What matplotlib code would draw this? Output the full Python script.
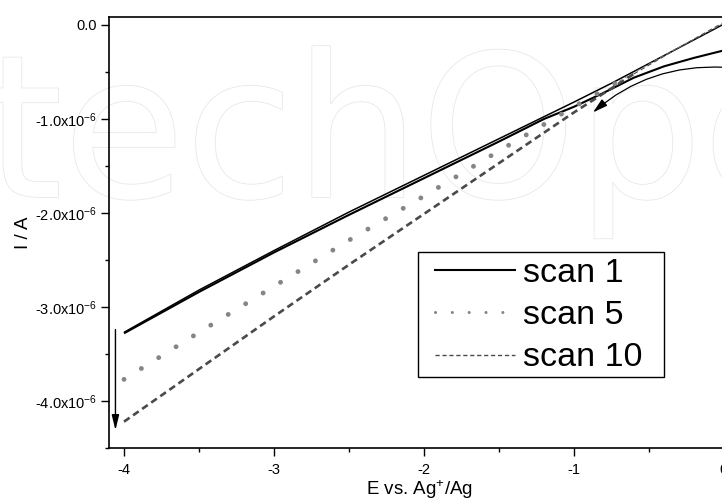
import matplotlib
matplotlib.use("Agg")
import matplotlib.pyplot as plt
from matplotlib.lines import Line2D
from matplotlib.patches import Rectangle
from matplotlib.ticker import FuncFormatter, MultipleLocator
import matplotlib.patheffects as pe

plt.rcParams['font.family'] = ['Liberation Sans', 'DejaVu Sans']
plt.rcParams['mathtext.default'] = 'regular'

# ---- data (E in V vs Ag+/Ag, I in A) ----
scan1_fwd_x = [0.0, -0.25, -0.5, -0.75, -1.0, -1.5, -2.0, -2.5, -3.0, -3.5, -4.0]
scan1_fwd_y = [0.01e-6, -0.20e-6, -0.41e-6, -0.62e-6, -0.82e-6, -1.21e-6, -1.60e-6,
               -1.99e-6, -2.40e-6, -2.82e-6, -3.27e-6]
scan1_rev_x = [-4.0, -3.5, -3.0, -2.5, -2.0, -1.5, -1.2, -1.0, -0.8, -0.6, -0.4, -0.2, 0.0]
scan1_rev_y = [-3.28e-6, -2.84e-6, -2.42e-6, -2.02e-6, -1.63e-6, -1.24e-6, -1.00e-6,
               -0.87e-6, -0.72e-6, -0.56e-6, -0.44e-6, -0.35e-6, -0.27e-6]

scan5_x = [-4.0, -3.5, -3.0, -2.5, -2.0, -1.5, -1.0, -0.7]
scan5_y = [-3.77e-6, -3.27e-6, -2.78e-6, -2.29e-6, -1.82e-6, -1.34e-6, -0.87e-6, -0.60e-6]
scan5_tail_x = [-0.7, -0.35, 0.0]
scan5_tail_y = [-0.60e-6, -0.28e-6, 0.02e-6]

scan10_x = [-4.0, -3.5, -3.0, -2.5, -2.0, -1.5, -1.0, -0.6]
scan10_y = [-4.22e-6, -3.66e-6, -3.10e-6, -2.55e-6, -2.01e-6, -1.47e-6, -0.93e-6, -0.52e-6]
scan10_tail_x = [-0.6, -0.3, 0.0]
scan10_tail_y = [-0.52e-6, -0.24e-6, 0.03e-6]

legend_labels = ["scan 1", "scan 5", "scan 10"]
x_ticks = [-4, -3, -2, -1, 0]
y_ticks = [0.0, -1.0e-6, -2.0e-6, -3.0e-6, -4.0e-6]
watermark = "techOpen"

W, H = 722, 500
fig = plt.figure(figsize=(W / 100, H / 100), dpi=100)

# faint outlined watermark behind the chart
fig.text(-15 / W, 1 - 197 / H, watermark, fontsize=143, family='DejaVu Sans',
         color='white', zorder=-5,
         path_effects=[pe.withStroke(linewidth=1.2, foreground='#e8e8e8')])

ax = fig.add_axes([109 / W, 52 / H, (731 - 109) / W, (448 - 17) / H])
ax.set_zorder(1)
ax.patch.set_alpha(0)

c5 = '#858585'
c10 = '#4a4a4a'

ax.plot(scan1_fwd_x, scan1_fwd_y, color='black', lw=1.1, solid_capstyle='butt')
ax.plot(scan1_rev_x, scan1_rev_y, color='black', lw=1.5, solid_capstyle='butt')

ax.plot(scan5_x, scan5_y, color=c5, lw=3.5, linestyle=(0, (0.01, 4.2)),
        dash_capstyle='round')
ax.plot(scan5_tail_x, scan5_tail_y, color=c5, lw=0.7, linestyle=(0, (4, 3)))

ax.plot(scan10_x, scan10_y, color=c10, lw=1.9, linestyle=(0, (2.6, 1.6)))
ax.plot(scan10_tail_x, scan10_tail_y, color=c10, lw=0.8, linestyle=(0, (4, 3)))

# arrows
ax.annotate('', xy=(-0.873, -0.93e-6), xytext=(0.0, -0.45e-6),
            arrowprops=dict(arrowstyle='-|>,head_length=0.9,head_width=0.25',
                            color='black', lw=0.9,
                            connectionstyle='arc3,rad=0.2',
                            shrinkA=0, shrinkB=0))
ax.annotate('', xy=(-4.057, -4.31e-6), xytext=(-4.057, -3.24e-6),
            arrowprops=dict(arrowstyle='-|>,head_length=0.9,head_width=0.22',
                            color='black', lw=1.0, shrinkA=0, shrinkB=0))

ax.set_xticks(x_ticks)
ax.xaxis.set_minor_locator(MultipleLocator(0.5))
ax.set_yticks(y_ticks)
ax.yaxis.set_minor_locator(MultipleLocator(0.5e-6))


def yfmt(v, pos):
    if abs(v) < 1e-12:
        return '0.0'
    return '%.1fx10$^{-6}$' % (v / 1e-6)


ax.yaxis.set_major_formatter(FuncFormatter(yfmt))
ax.xaxis.set_major_formatter(FuncFormatter(lambda v, p: '%d' % v))

ax.tick_params(which='major', direction='out', length=5.5, width=1.0,
               labelsize=10.5, pad=3)
ax.tick_params(axis='x', which='major', pad=5)
ax.tick_params(which='minor', direction='out', length=3.2, width=1.0)
for s in ax.spines.values():
    s.set_linewidth(1.2)

ax.set_xlabel('E vs. Ag$^{+}$/Ag', fontsize=13.5, labelpad=1)
ax.set_ylabel('I / A', fontsize=13.5, labelpad=2)

# legend frame (drawn inside the axes, below the legend)
frame = Rectangle((418 / W, 1 - 377 / H), (664 - 418) / W, (377 - 252) / H,
                  transform=fig.transFigure, facecolor='white',
                  edgecolor='black', lw=1.0, zorder=4)
ax.add_artist(frame)

handles = [Line2D([], [], color='black', lw=1.5),
           Line2D([], [], color=c5, lw=2.2, linestyle=(0, (0.01, 5.5)),
                  dash_capstyle='round'),
           Line2D([], [], color=c10, lw=1.0, linestyle=(0, (3, 2)))]
leg = ax.legend(handles, legend_labels, loc='upper left',
                bbox_to_anchor=(435 / W, 1 - 258 / H),
                bbox_transform=fig.transFigure, borderaxespad=0,
                fontsize=24.5, handlelength=2.35, handletextpad=0.25,
                labelspacing=0.33, borderpad=0.0, frameon=False)
leg.set_zorder(5)

ax.set_xlim(-4.1, 0.047)
ax.set_ylim(-4.50e-6, 0.085e-6)

fig.savefig('out.png', dpi=100)
